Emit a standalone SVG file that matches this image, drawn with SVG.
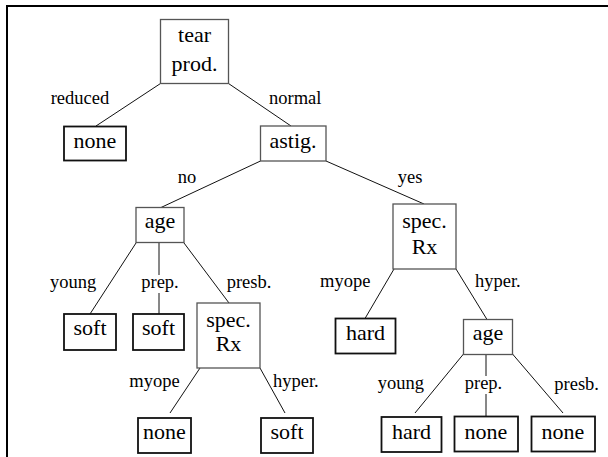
<svg xmlns="http://www.w3.org/2000/svg" width="608" height="457" viewBox="0 0 608 457">
<style>
text{font-family:"Liberation Serif","Times New Roman",serif;fill:#000}
.n{font-size:22px;text-anchor:middle}
.l{font-size:18.5px}
.c{text-anchor:middle}
.inner{fill:#fff;stroke:#555;stroke-width:1.3}
.leaf{fill:#fff;stroke:#111;stroke-width:1.8}
#edges line{stroke:#111;stroke-width:1}
.frame{stroke:#000;stroke-width:2;fill:none}
</style>
<rect width="608" height="457" fill="#fff"/>
<path class="frame" d="M7 457V6H608"/>
<g id="edges">
<line x1="160.5" y1="83.5" x2="96" y2="126"/>
<line x1="228.5" y1="83.5" x2="291" y2="126"/>
<line x1="260.5" y1="161" x2="161" y2="207.5"/>
<line x1="326" y1="161" x2="424" y2="204"/>
<line x1="136" y1="243" x2="90" y2="314"/>
<line x1="159" y1="243" x2="159" y2="314"/>
<line x1="184" y1="243" x2="229" y2="303"/>
<line x1="394" y1="269" x2="365" y2="318.5"/>
<line x1="456" y1="269" x2="487" y2="319.5"/>
<line x1="200" y1="368" x2="170" y2="413"/>
<line x1="260" y1="368" x2="285" y2="413"/>
<line x1="463.5" y1="354" x2="415" y2="413"/>
<line x1="486" y1="354" x2="486" y2="416.5"/>
<line x1="512.5" y1="354" x2="563" y2="413"/>
</g>
<g id="labels">
<text class="l" x="50.7" y="104">reduced</text>
<text class="l" x="269" y="104">normal</text>
<text class="l" x="177.7" y="183">no</text>
<text class="l" x="397.7" y="183">yes</text>
<text class="l" x="50" y="288">young</text>
<rect x="141" y="275" width="37" height="18" fill="#fff"/>
<text class="l c" x="160" y="288">prep.</text>
<text class="l" x="226.7" y="288">presb.</text>
<text class="l" x="320" y="287">myope</text>
<text class="l" x="475" y="287">hyper.</text>
<text class="l" x="129.3" y="387">myope</text>
<text class="l" x="273" y="387">hyper.</text>
<text class="l" x="377.7" y="389">young</text>
<rect x="464" y="376" width="39" height="18" fill="#fff"/>
<text class="l c" x="483.5" y="389">prep.</text>
<text class="l" x="554.3" y="390">presb.</text>
</g>
<g id="n-tear"><rect class="inner" x="160.5" y="19.5" width="68" height="64"/><text class="n" x="194.5" y="41.5">tear</text><text class="n" x="194.5" y="71">prod.</text></g>
<g id="n-none1"><rect class="leaf" x="64" y="126.5" width="62" height="34"/><text class="n" x="95" y="148">none</text></g>
<g id="n-astig"><rect class="inner" x="260.5" y="126" width="65.5" height="35"/><text class="n" x="293" y="148">astig.</text></g>
<g id="n-age1"><rect class="inner" x="136" y="207.5" width="48" height="35"/><text class="n" x="160" y="227.5">age</text></g>
<g id="n-spec2"><rect class="inner" x="393" y="204" width="63" height="65"/><text class="n" x="424.5" y="228">spec.</text><text class="n" x="424.5" y="254">Rx</text></g>
<g id="n-soft1"><rect class="leaf" x="64" y="314" width="52" height="36"/><text class="n" x="90" y="335">soft</text></g>
<g id="n-soft2"><rect class="leaf" x="133" y="314" width="51" height="36"/><text class="n" x="158.5" y="335">soft</text></g>
<g id="n-spec1"><rect class="inner" x="197" y="303" width="63" height="65"/><text class="n" x="228.5" y="327">spec.</text><text class="n" x="228.5" y="351">Rx</text></g>
<g id="n-hard1"><rect class="leaf" x="335.5" y="318.5" width="60" height="35"/><text class="n" x="365.5" y="339.5">hard</text></g>
<g id="n-age2"><rect class="inner" x="463.5" y="319.5" width="49" height="35"/><text class="n" x="488" y="340">age</text></g>
<g id="n-none2"><rect class="leaf" x="138" y="418" width="53" height="35"/><text class="n" x="164.5" y="438.5">none</text></g>
<g id="n-soft3"><rect class="leaf" x="261" y="418" width="52" height="35"/><text class="n" x="287" y="438.5">soft</text></g>
<g id="n-hard2"><rect class="leaf" x="381.5" y="417" width="60" height="35"/><text class="n" x="411.5" y="438.5">hard</text></g>
<g id="n-none3"><rect class="leaf" x="454.5" y="416.5" width="63.5" height="35"/><text class="n" x="486" y="438.5">none</text></g>
<g id="n-none4"><rect class="leaf" x="531.5" y="416.5" width="63.5" height="35"/><text class="n" x="563" y="438.5">none</text></g>
</svg>
